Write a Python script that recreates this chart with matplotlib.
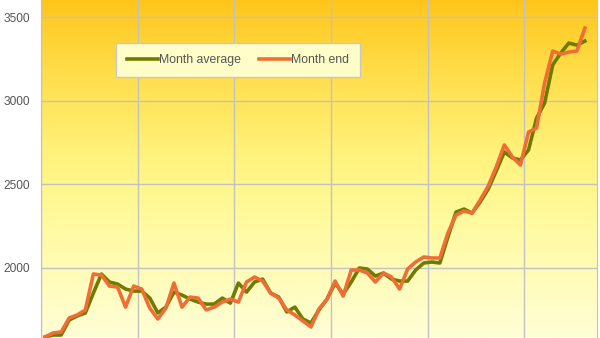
import numpy as np
import matplotlib.pyplot as plt
from matplotlib.colors import LinearSegmentedColormap

# monthly values
month_average = [1584, 1596, 1596, 1686, 1710, 1728, 1847, 1961, 1913, 1901,
                 1871, 1859, 1859, 1817, 1728, 1763, 1853, 1835, 1811, 1793,
                 1781, 1781, 1817, 1787, 1907, 1853, 1913, 1931, 1847, 1823,
                 1734, 1763, 1692, 1668, 1746, 1811, 1907, 1841, 1913, 1997,
                 1991, 1949, 1967, 1931, 1919, 1919, 1985, 2027, 2033, 2027,
                 2183, 2332, 2350, 2326, 2392, 2470, 2578, 2692, 2656, 2644,
                 2704, 2895, 2985, 3213, 3284, 3344, 3332, 3356]

month_end = [1584, 1608, 1614, 1698, 1716, 1746, 1961, 1955, 1889, 1883,
             1763, 1889, 1871, 1757, 1692, 1757, 1907, 1763, 1823, 1817,
             1746, 1763, 1793, 1811, 1793, 1913, 1943, 1919, 1847, 1817,
             1746, 1716, 1680, 1644, 1752, 1811, 1919, 1829, 1985, 1985,
             1967, 1913, 1967, 1943, 1871, 1991, 2033, 2063, 2057, 2057,
             2207, 2314, 2338, 2326, 2404, 2488, 2602, 2734, 2662, 2614,
             2811, 2835, 3105, 3296, 3278, 3290, 3296, 3434]

y_ticks = [2000, 2500, 3000, 3500]
months = np.arange(len(month_end))

fig = plt.figure(figsize=(6, 3.38), dpi=100)
ax = fig.add_axes([41/600, 0, 556/600, 1])

xlim = (-0.5, 68.5)
ylim = (1578, 3602)

# background gradient, pale at the bottom, orange at the top
cmap = LinearSegmentedColormap.from_list('bg', [
    (0.0, '#fffed6'), (0.35, '#fffa9e'), (0.55, '#fff27a'),
    (0.8, '#ffdc48'), (1.0, '#fec61a')])
grad = np.linspace(0, 1, 256).reshape(-1, 1)
ax.imshow(grad, cmap=cmap, aspect='auto', origin='lower',
          extent=[xlim[0], xlim[1], ylim[0], ylim[1]], zorder=0)

ax.plot(months, month_average, color='#6f7c00', lw=2.6, label='Month average', zorder=3)
ax.plot(months, month_end, color='#ee6e35', lw=2.6, label='Month end', zorder=4)

ax.set_xlim(xlim)
ax.set_ylim(ylim)
ax.set_xticks(np.arange(-0.5, 68, 12))
ax.set_xticklabels([])
ax.set_yticks(y_ticks)
ax.set_yticklabels([str(v) for v in y_ticks], fontsize=8.6, color='#555555',
                   family='Liberation Sans')
ax.tick_params(length=0, pad=8)
ax.grid(True, color='#c2c2c2', lw=1, zorder=1)
ax.set_axisbelow(False)
for side in ['left', 'right']:
    ax.spines[side].set_color('#c2c2c2')
for side in ['top', 'bottom']:
    ax.spines[side].set_visible(False)

leg = ax.legend(loc='upper left', bbox_to_anchor=(0.135, 0.873), ncol=2,
                frameon=True, fancybox=False, framealpha=1,
                facecolor='#fffdc8', edgecolor='#c8c8c8',
                prop={'family': 'Liberation Sans', 'size': 8.8},
                handlelength=2.5, columnspacing=1.5, borderpad=0.9,
                handletextpad=0.1, borderaxespad=0)
for t in leg.get_texts():
    t.set_color('#555555')
leg.set_zorder(5)

fig.savefig('out.png', dpi=100)
